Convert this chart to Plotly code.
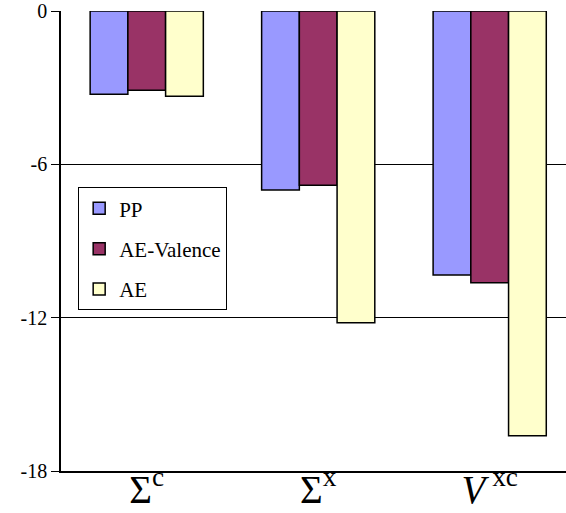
import plotly.graph_objects as go

categories = ["Σ<sup>c</sup>", "Σ<sup>x</sup>", "<i>V</i><sup> xc</sup>"]
series_names = ["PP", "AE-Valence", "AE"]
pp = [-3.26, -7.0, -10.33]
ae_valence = [-3.10, -6.82, -10.63]
ae = [-3.34, -12.2, -16.62]
y_ticks = [0, -6, -12, -18]

colors = ["#9999FF", "#993366", "#FFFFCC"]
serif = "Liberation Serif"

x_idx = [0, 1, 2]
fig = go.Figure()
for name, vals, col in zip(series_names, [pp, ae_valence, ae], colors):
    fig.add_trace(go.Bar(
        x=x_idx, y=vals, name=name, legendgroup=name,
        marker=dict(color=col, line=dict(color="black", width=1.5)),
    ))

fig.update_layout(
    width=566, height=513,
    margin=dict(l=61, r=0, t=11, b=42, autoexpand=False),
    paper_bgcolor="white", plot_bgcolor="white",
    barmode="group", bargap=0.34, bargroupgap=0,
    font=dict(family=serif, color="black"),
    legend=dict(
        x=0.034, y=0.617, xanchor="left", yanchor="top",
        bgcolor="white", bordercolor="black", borderwidth=1,
        font=dict(family=serif, size=21, color="black"),
        traceorder="grouped", tracegroupgap=10,
    ),
    showlegend=True,
)
fig.update_xaxes(
    range=[-0.5, 2.445], tickvals=x_idx, ticktext=categories,
    showline=True, linecolor="black", linewidth=1.5,
    showgrid=False, ticks="", zeroline=False, automargin=False,
    ticklabelstandoff=-17,
    tickfont=dict(family=serif, size=39, color="black"),
)
fig.update_yaxes(
    range=[-18, 0], tickvals=y_ticks, ticktext=[str(v) for v in y_ticks],
    showline=True, linecolor="black", linewidth=1.5,
    showgrid=True, gridcolor="black", gridwidth=1,
    ticks="outside", ticklen=8, tickcolor="black", tickwidth=1,
    zeroline=False, automargin=False,
    tickfont=dict(family=serif, size=20, color="black"),
)

fig.write_html(
    "out.html",
    config={"displayModeBar": False},
    post_script="document.body.style.margin='0';document.body.style.overflow='hidden';",
)
